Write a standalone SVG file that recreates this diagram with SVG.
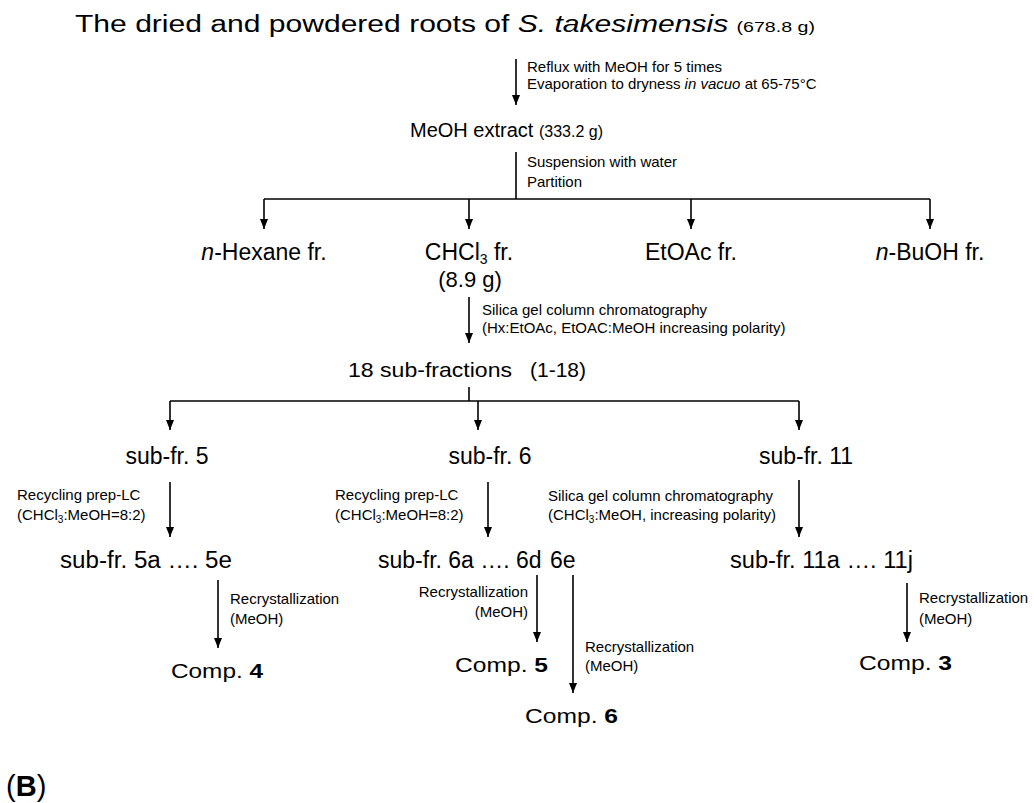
<svg xmlns="http://www.w3.org/2000/svg" width="1034" height="803" viewBox="0 0 1034 803">
<style>
text{font-family:"Liberation Sans",Arial,sans-serif;fill:#000}
.big{font-size:23px}
.mid{font-size:20px}
.sm{font-size:15px}
.sub{font-size:10px}
.c{text-anchor:middle}
.e{text-anchor:end}
.conn line{stroke:#000;stroke-width:1.6;fill:none}
.arr{marker-end:url(#ah)}
</style>
<defs>
<marker id="ah" markerUnits="userSpaceOnUse" viewBox="0 0 10 8" markerWidth="10" markerHeight="8" refX="10" refY="4" orient="auto">
<path d="M0,0 L10,4 L0,8 z" fill="#000"/>
</marker>
</defs>
<rect width="1034" height="803" fill="#fff"/>

<g class="conn">
<line class="arr" x1="516" y1="59" x2="516" y2="105"/>
<line x1="516" y1="152" x2="516" y2="199"/>
<line x1="264" y1="199" x2="930" y2="199"/>
<line class="arr" x1="264" y1="199" x2="264" y2="229"/>
<line class="arr" x1="469" y1="199" x2="469" y2="229"/>
<line class="arr" x1="691" y1="199" x2="691" y2="229"/>
<line class="arr" x1="930" y1="199" x2="930" y2="229"/>
<line class="arr" x1="469" y1="297" x2="469" y2="343"/>
<line x1="469" y1="387" x2="469" y2="401"/>
<line x1="170" y1="401" x2="799" y2="401"/>
<line class="arr" x1="170" y1="401" x2="170" y2="430"/>
<line class="arr" x1="478" y1="401" x2="478" y2="430"/>
<line class="arr" x1="799" y1="401" x2="799" y2="430"/>
<line class="arr" x1="170" y1="482" x2="170" y2="537"/>
<line class="arr" x1="488" y1="482" x2="488" y2="537"/>
<line class="arr" x1="799" y1="480" x2="799" y2="537"/>
<line class="arr" x1="218" y1="580" x2="218" y2="648"/>
<line class="arr" x1="537" y1="575" x2="537" y2="642"/>
<line class="arr" x1="573" y1="575" x2="573" y2="693"/>
<line class="arr" x1="907" y1="583" x2="907" y2="642"/>
</g>

<g id="title"><text x="75" y="32" class="big" textLength="740" lengthAdjust="spacingAndGlyphs">The dried and powdered roots of <tspan font-style="italic">S. takesimensis</tspan> <tspan font-size="15">(678.8 g)</tspan></text></g>
<g id="lbl-reflux">
<text x="527" y="72" class="sm">Reflux with MeOH for 5 times</text>
<text x="527" y="89" class="sm">Evaporation to dryness <tspan font-style="italic">in vacuo</tspan> at 65-75°C</text>
</g>
<g id="meoh-extract"><text x="410" y="137" class="mid">MeOH extract <tspan font-size="16">(333.2 g)</tspan></text></g>
<g id="lbl-suspension">
<text x="527" y="167" class="sm">Suspension with water</text>
<text x="527" y="187" class="sm">Partition</text>
</g>
<g id="hexane"><text x="264" y="260" class="big c"><tspan font-style="italic">n</tspan>-Hexane fr.</text></g>
<g id="chcl3">
<text x="469" y="260" class="big c">CHCl<tspan font-size="14" dy="4">3</tspan><tspan dy="-4"> fr.</tspan></text>
<text x="470" y="287" font-size="22" class="c">(8.9 g)</text>
</g>
<g id="etoac"><text x="691" y="260" class="big c">EtOAc fr.</text></g>
<g id="buoh"><text x="930" y="260" class="big c"><tspan font-style="italic">n</tspan>-BuOH fr.</text></g>
<g id="lbl-silica1">
<text x="482" y="315" class="sm">Silica gel column chromatography</text>
<text x="482" y="333" class="sm">(Hx:EtOAc, EtOAC:MeOH increasing polarity)</text>
</g>
<g id="subfractions">
<text x="348" y="377" font-size="21" textLength="164" lengthAdjust="spacingAndGlyphs">18 sub-fractions</text>
<text x="530" y="377" font-size="21">(1-18)</text>
</g>
<g id="subfr5"><text x="167" y="464" class="big c">sub-fr. 5</text></g>
<g id="subfr6"><text x="490" y="464" class="big c">sub-fr. 6</text></g>
<g id="subfr11"><text x="806" y="464" class="big c">sub-fr. 11</text></g>
<g id="lbl-prep5">
<text x="17" y="500" class="sm">Recycling prep-LC</text>
<text x="17" y="520" class="sm">(CHCl<tspan class="sub" dy="3">3</tspan><tspan dy="-3">:MeOH=8:2)</tspan></text>
</g>
<g id="lbl-prep6">
<text x="335" y="500" class="sm">Recycling prep-LC</text>
<text x="335" y="520" class="sm">(CHCl<tspan class="sub" dy="3">3</tspan><tspan dy="-3">:MeOH=8:2)</tspan></text>
</g>
<g id="lbl-silica2">
<text x="548" y="501" class="sm">Silica gel column chromatography</text>
<text x="548" y="520" class="sm">(CHCl<tspan class="sub" dy="3">3</tspan><tspan dy="-3">:MeOH, increasing polarity)</tspan></text>
</g>
<g id="subfr5a"><text x="60" y="568" class="big" textLength="172" lengthAdjust="spacingAndGlyphs">sub-fr. 5a …. 5e</text></g>
<g id="subfr6a">
<text x="378" y="568" class="big">sub-fr. 6a …. 6d</text>
<text x="550" y="568" class="big">6e</text>
</g>
<g id="subfr11a"><text x="730" y="568" class="big" textLength="183" lengthAdjust="spacingAndGlyphs">sub-fr. 11a …. 11j</text></g>
<g id="lbl-recr4">
<text x="230" y="604" class="sm">Recrystallization</text>
<text x="230" y="624" class="sm">(MeOH)</text>
</g>
<g id="lbl-recr5">
<text x="528" y="597" class="sm e">Recrystallization</text>
<text x="528" y="617" class="sm e">(MeOH)</text>
</g>
<g id="lbl-recr6">
<text x="585" y="652" class="sm">Recrystallization</text>
<text x="585" y="671" class="sm">(MeOH)</text>
</g>
<g id="lbl-recr3">
<text x="919" y="603" class="sm">Recrystallization</text>
<text x="919" y="624" class="sm">(MeOH)</text>
</g>
<g id="comp4"><text x="171" y="678" font-size="21" textLength="92" lengthAdjust="spacingAndGlyphs">Comp. <tspan font-weight="bold">4</tspan></text></g>
<g id="comp5"><text x="455" y="672" font-size="21" textLength="93" lengthAdjust="spacingAndGlyphs">Comp. <tspan font-weight="bold">5</tspan></text></g>
<g id="comp6"><text x="525" y="723" font-size="21" textLength="93" lengthAdjust="spacingAndGlyphs">Comp. <tspan font-weight="bold">6</tspan></text></g>
<g id="comp3"><text x="859" y="670" font-size="21" textLength="93" lengthAdjust="spacingAndGlyphs">Comp. <tspan font-weight="bold">3</tspan></text></g>
<g id="panel-b"><text x="6" y="796" font-size="29">(<tspan font-weight="bold">B</tspan>)</text></g>
</svg>
